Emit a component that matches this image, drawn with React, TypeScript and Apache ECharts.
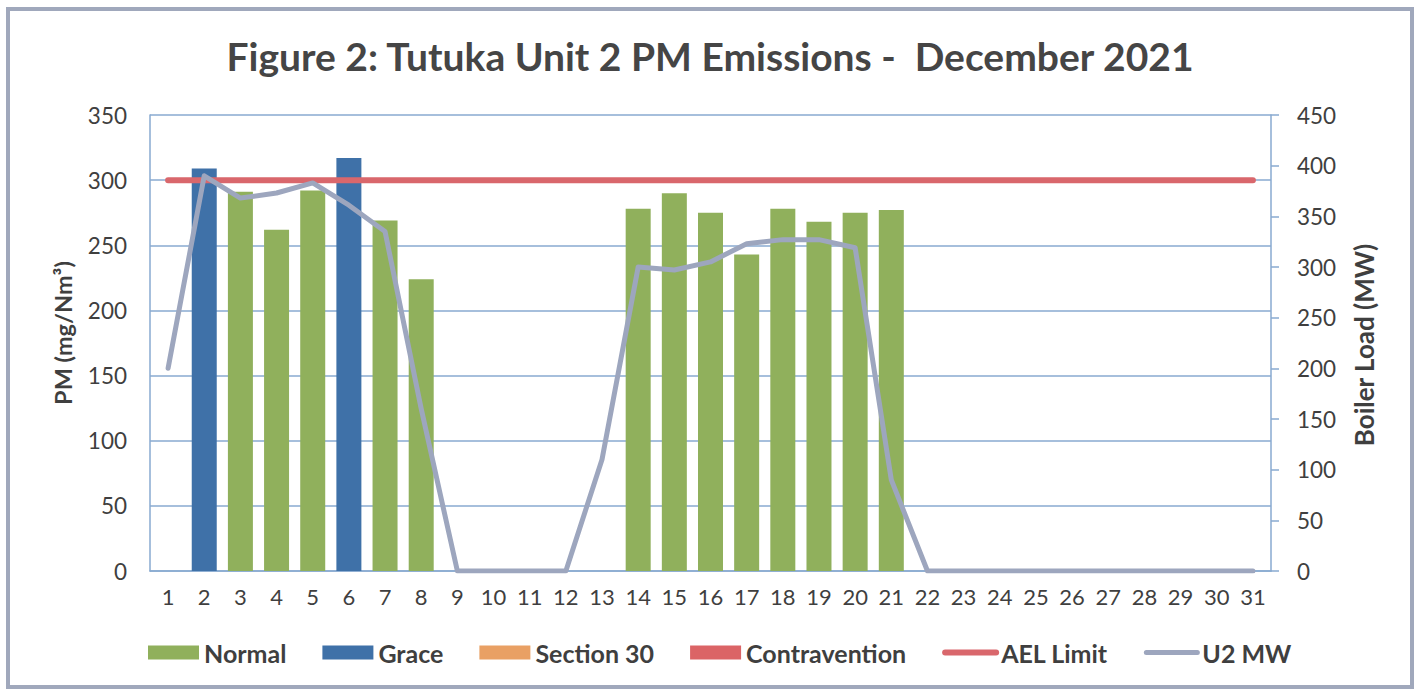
import React, { useEffect, useRef } from "react";
import * as echarts from "echarts";

const days = ["1","2","3","4","5","6","7","8","9","10","11","12","13","14","15","16","17","18","19","20","21","22","23","24","25","26","27","28","29","30","31"];
const normal = [null, null, 291, 262, 292, null, 269, 224, null, null, null, null, null, 278, 290, 275, 243, 278, 268, 275, 277, null, null, null, null, null, null, null, null, null, null];
const grace = [null, 309, null, null, null, 317, null, null, null, null, null, null, null, null, null, null, null, null, null, null, null, null, null, null, null, null, null, null, null, null, null];
const section30: (number | null)[] = [];
const contravention: (number | null)[] = [];
const aelLimit = [300, 300, 300, 300, 300, 300, 300, 300, 300, 300, 300, 300, 300, 300, 300, 300, 300, 300, 300, 300, 300, 300, 300, 300, 300, 300, 300, 300, 300, 300, 300];
const u2mw = [200, 390, 368, 373, 383, 361, 335, 160, 0, 0, 0, 0, 110, 300, 297, 305, 323, 327, 327, 319, 90, 0, 0, 0, 0, 0, 0, 0, 0, 0, 0];
const pmTicks = { min: 0, max: 350, interval: 50 };
const mwTicks = { min: 0, max: 450, interval: 50 };

const FONT = "Lato";
const TXT = "#3f3f3f";
const GRIDC = "#88aad0";
const AEL_COLOR = "#d9676c";
const MW_COLOR = "#9da6be";

export default function App() {
  const ref = useRef<HTMLDivElement>(null);
  useEffect(() => {
    if (!ref.current) return;
    const chart = echarts.init(ref.current, undefined, { renderer: "svg" });
    chart.setOption({
      animation: false,
      backgroundColor: "#ffffff",
      textStyle: { fontFamily: FONT },
      title: {
        text: "Figure 2: Tutuka Unit 2 PM Emissions -  December 2021",
        left: "center",
        top: 31,
        textStyle: { fontFamily: FONT, fontSize: 39, fontWeight: "bold", color: "#454545" },
      },
      grid: { left: 150, right: 149, top: 115, bottom: 119, containLabel: false },
      legend: {
        left: 143,
        top: 635,
        itemWidth: 51,
        itemHeight: 14,
        itemGap: 36,
        textStyle: { fontFamily: FONT, fontSize: 25, fontWeight: "bold", color: TXT },
        data: [
          { name: "Normal", icon: "rect" },
          { name: "Grace", icon: "rect" },
          { name: "Section 30", icon: "rect" },
          { name: "Contravention", icon: "rect" },
          { name: "AEL Limit", itemStyle: { opacity: 0 }, lineStyle: { width: 6, color: AEL_COLOR, cap: "round" } },
          { name: "U2 MW", itemStyle: { opacity: 0 }, lineStyle: { width: 5, color: MW_COLOR, cap: "round" } },
        ],
      },
      xAxis: {
        type: "category",
        data: days,
        boundaryGap: true,
        axisLine: { lineStyle: { color: GRIDC, width: 1.5 } },
        axisTick: { show: false },
        axisLabel: { fontFamily: FONT, fontSize: 22, color: TXT, margin: 14, interval: 0 },
      },
      yAxis: [
        {
          type: "value",
          ...pmTicks,
          axisLine: { show: true, lineStyle: { color: GRIDC, width: 1.5 } },
          axisTick: { show: false },
          axisLabel: { fontFamily: FONT, fontSize: 22.5, color: TXT, margin: 23 },
          splitLine: { lineStyle: { color: GRIDC, width: 1.5 } },
        },
        {
          type: "value",
          ...mwTicks,
          position: "right",
          axisLine: { show: true, lineStyle: { color: GRIDC, width: 1.5 } },
          axisTick: { show: true, length: 8, lineStyle: { color: GRIDC, width: 1.5 } },
          axisLabel: { fontFamily: FONT, fontSize: 22.5, color: TXT, margin: 26 },
          splitLine: { show: false },
        },
      ],
      series: [
        { name: "Normal", type: "bar", stack: "pm", data: normal, barWidth: 25, itemStyle: { color: "#90b05c" } },
        { name: "Grace", type: "bar", stack: "pm", data: grace, barWidth: 25, itemStyle: { color: "#3f71a8" } },
        { name: "Section 30", type: "bar", stack: "pm", data: section30, barWidth: 25, itemStyle: { color: "#e9a064" } },
        { name: "Contravention", type: "bar", stack: "pm", data: contravention, barWidth: 25, itemStyle: { color: "#db6466" } },
        {
          name: "AEL Limit", type: "line", data: aelLimit, yAxisIndex: 0, symbol: "none",
          itemStyle: { color: AEL_COLOR },
          lineStyle: { color: AEL_COLOR, width: 6, cap: "round" },
        },
        {
          name: "U2 MW", type: "line", data: u2mw, yAxisIndex: 1, symbol: "none",
          itemStyle: { color: MW_COLOR },
          lineStyle: { color: MW_COLOR, width: 5, cap: "round", join: "round" },
        },
      ],
      graphic: [
        {
          type: "rect",
          shape: { x: 8, y: 9, width: 1404, height: 678 },
          style: { fill: "none", stroke: "#a0a8bc", lineWidth: 4 },
          silent: true,
        },
        {
          type: "text",
          x: 63, y: 333, rotation: Math.PI / 2,
          style: { text: "PM (mg/Nm³)", fontFamily: FONT, fontSize: 23.5, fontWeight: "bold", fill: TXT, align: "center", verticalAlign: "middle" },
        },
        {
          type: "text",
          x: 1364, y: 345, rotation: Math.PI / 2,
          style: { text: "Boiler Load (MW)", fontFamily: FONT, fontSize: 26, fontWeight: "bold", fill: TXT, align: "center", verticalAlign: "middle" },
        },
      ],
    });
    return () => chart.dispose();
  }, []);
  return <div ref={ref} style={{ position: "fixed", left: 0, top: 0, width: 1420, height: 690 }} />;
}
